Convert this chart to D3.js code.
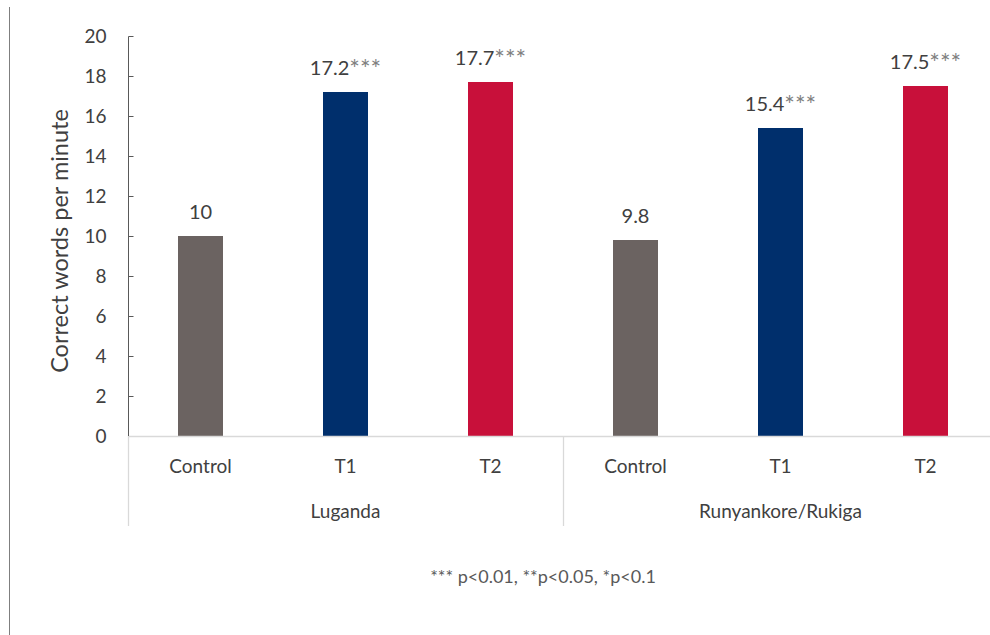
<!DOCTYPE html>
<html><head><meta charset="utf-8">
<script src="https://cdn.jsdelivr.net/npm/d3@7"></script>
<style>body{margin:0;background:#fff;} svg{display:block;font-family:Lato,"Open Sans",sans-serif;}</style>
</head><body>
<svg id="chart" width="990" height="635"></svg>
<script>
const groups = ["Luganda", "Runyankore/Rukiga"];
const arms = ["Control", "T1", "T2"];
const luganda = [10, 17.2, 17.7];
const runyankore = [9.8, 15.4, 17.5];
const stars = ["", "***", "***"];
const armColors = ["#6b6361", "#002f6c", "#c8103a"];
const yTicks = [0, 2, 4, 6, 8, 10, 12, 14, 16, 18, 20];
const yTitle = "Correct words per minute";
const footnote = "*** p<0.01, **p<0.05, *p<0.1";

const data = [];
[luganda, runyankore].forEach((vals, gi) => vals.forEach((v, ai) => data.push({group: groups[gi], arm: arms[ai], ai, value: v, key: gi + "-" + ai, star: stars[ai]})));

const svg = d3.select("#chart");
const x0 = 128, x1 = 998, yTop = 36, yBot = 436;
const x = d3.scaleBand().domain(data.map(d => d.key)).range([x0, x1]).paddingInner(0).paddingOuter(0);
const y = d3.scaleLinear().domain([0, 20]).range([yBot, yTop]);
const barW = 45;

// left border line
svg.append("line").attr("x1", 9.5).attr("x2", 9.5).attr("y1", 7).attr("y2", 635).attr("stroke", "#7f7f7f").attr("stroke-width", 1);

// bars
svg.selectAll("rect.bar").data(data).enter().append("rect").attr("class", "bar")
  .attr("x", d => x(d.key) + x.bandwidth() / 2 - barW / 2)
  .attr("width", barW)
  .attr("y", d => y(d.value))
  .attr("height", d => y(0) - y(d.value))
  .attr("fill", d => armColors[d.ai]);

// baseline
svg.append("line").attr("x1", x0).attr("x2", x1).attr("y1", yBot + 0.5).attr("y2", yBot + 0.5).attr("stroke", "#d9d9d9").attr("stroke-width", 1.3);

// y axis
const yAxis = d3.axisLeft(y).tickValues(yTicks).tickSize(-5).tickPadding(22).tickFormat(d3.format("d"));
const ya = svg.append("g").attr("transform", `translate(${x0 + 0.5},0)`).call(yAxis);
ya.select(".domain").attr("stroke", "#595959").attr("d", `M0,${yTop + 0.5}V${yBot}`);
ya.selectAll(".tick line").attr("stroke", "#595959").attr("x1", 0).attr("x2", 5);
ya.selectAll(".tick").filter(d => d === 0).select("line").remove();
ya.selectAll(".tick text").attr("fill", "#404040").style("font-size", "19px").style("font-family", "Lato,'Open Sans',sans-serif");

// y title
svg.append("text").attr("transform", `translate(68,${(yTop + yBot) / 2 + 5}) rotate(-90)`)
  .attr("text-anchor", "middle").attr("fill", "#404040").style("font-size", "23.5px").text(yTitle);

// value labels
const lab = svg.selectAll("text.val").data(data).enter().append("text").attr("class", "val")
  .attr("x", d => x(d.key) + x.bandwidth() / 2)
  .attr("y", d => y(d.value) - 17)
  .attr("text-anchor", "middle").style("font-size", "20px");
lab.append("tspan").attr("fill", "#404040").text(d => d.value);
lab.append("tspan").attr("fill", "#7f7f7f").style("font-size", "25px").attr("dy", 3).text(d => d.star);

// category labels
svg.selectAll("text.cat").data(data).enter().append("text").attr("class", "cat")
  .attr("x", d => x(d.key) + x.bandwidth() / 2).attr("y", 473)
  .attr("text-anchor", "middle").attr("fill", "#404040").style("font-size", "19px").text(d => d.arm);

// group separators and labels
const gw = x.bandwidth() * arms.length;
groups.forEach((g, gi) => {
  const gx = x0 + gi * gw;
  svg.append("line").attr("x1", gx + 0.5).attr("x2", gx + 0.5).attr("y1", yBot).attr("y2", 526).attr("stroke", "#d9d9d9").attr("stroke-width", 1.3);
  svg.append("text").attr("x", gx + gw / 2).attr("y", 518).attr("text-anchor", "middle").attr("fill", "#404040").style("font-size", "19px").text(g);
});
svg.append("line").attr("x1", x1 - 0.5).attr("x2", x1 - 0.5).attr("y1", yBot).attr("y2", 526).attr("stroke", "#d9d9d9");

// footnote
svg.append("text").attr("x", 543).attr("y", 583).attr("text-anchor", "middle").attr("fill", "#595959").style("font-size", "18px").text(footnote);
</script>
</body></html>
